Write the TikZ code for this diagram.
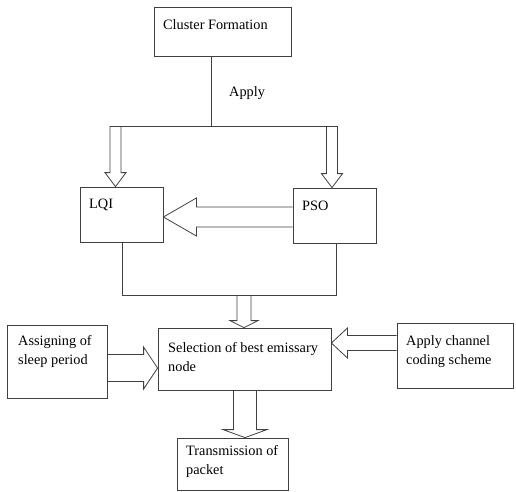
\documentclass[tikz,border=0pt]{standalone}
\usepackage{fontspec}
\setmainfont{Liberation Serif}
\usetikzlibrary{calc,fit}
\newcommand\twolines[1]{\begin{tabular}[t]{@{}l@{}}#1\end{tabular}}
\newcommand\blockarrow[5]{%
  \coordinate (ba-s) at #1; \coordinate (ba-t) at #2;
  \coordinate (ba-h) at ($(ba-t)!#5pt!(ba-s)$);
  \draw[conn] ($(ba-s)!#3pt!90:(ba-t)$) -- ($(ba-h)!#3pt!-90:(ba-s)$) -- ($(ba-h)!#4pt!-90:(ba-s)$) -- (ba-t) -- ($(ba-h)!#4pt!90:(ba-s)$) -- ($(ba-h)!#3pt!90:(ba-s)$) -- ($(ba-s)!#3pt!-90:(ba-t)$);
}
\begin{document}
\begin{tikzpicture}[x=1pt,y=-1pt,
  box/.style={draw=black!75, line width=0.8pt, inner sep=0pt},
  conn/.style={draw=black!75, line width=0.8pt, line join=miter},
  txt/.style={inner sep=0pt, anchor=base west, font=\fontsize{14.3}{19}\selectfont}]
\useasboundingbox (0,0) rectangle (516,491);
% boxes
\node[box, fit={(154,7)(291,56)}] (cf) {};
\node[box, fit={(80,187)(163,242)}] (lqi) {};
\node[box, fit={(293,188)(376,243)}] (pso) {};
\node[box, fit={(158,328)(331,390)}] (sel) {};
\node[box, fit={(7,325)(107,398)}] (asg) {};
\node[box, fit={(397,323)(513,388)}] (chn) {};
\node[box, fit={(177,438)(288,490)}] (trn) {};
% texts
\node[txt] (t-cf) at (163,29) {Cluster Formation};
\node[txt] (t-apply) at (229,96) {Apply};
\node[txt] (t-lqi) at (89,208) {LQI};
\node[txt] (t-pso) at (302,210) {PSO};
\node[txt] (t-asg) at (18,345) {\twolines{Assigning of\\sleep period}};
\node[txt] (t-sel) at (168,352) {\twolines{Selection of best emissary\\node}};
\node[txt] (t-chn) at (406,345) {\twolines{Apply channel\\coding scheme}};
\node[txt] (t-trn) at (186,455) {\twolines{Transmission of\\packet}};
% helper coordinates
\coordinate (j1) at (211,126);
\coordinate (hl) at (110,126);
\coordinate (hr) at (337,126);
\coordinate (al) at (115.5,126);
\coordinate (ar) at (332,126);
\coordinate (pa) at (0,217);
\coordinate (jl) at (122,295);
\coordinate (jr) at (336,295);
\coordinate (jm) at (244,295);
\coordinate (la) at (0,368);
\coordinate (ra) at (0,343);
\coordinate (ba) at (245,0);
% connectors
\draw[conn] (cf.south -| j1) -- (j1);
\draw[conn] (hl) -- (hr);
\blockarrow{(al)}{(lqi.north -| al)}{5.5}{10.5}{14}
\blockarrow{(ar)}{(pso.north -| ar)}{5.5}{10.5}{14}
\blockarrow{(pso.west |- pa)}{(lqi.east |- pa)}{10}{19}{33}
\draw[conn] (lqi.south -| jl) -- (jl) -- (jr) -- (pso.south -| jr);
\blockarrow{(jm)}{(sel.north -| jm)}{7}{14}{7}
\blockarrow{(asg.east |- la)}{(sel.west |- la)}{13.5}{21}{14}
\blockarrow{(chn.west |- ra)}{(sel.east |- ra)}{7.5}{15}{16}
\blockarrow{(sel.south -| ba)}{(trn.north -| ba)}{11.5}{22}{8}
\end{tikzpicture}
\end{document}
